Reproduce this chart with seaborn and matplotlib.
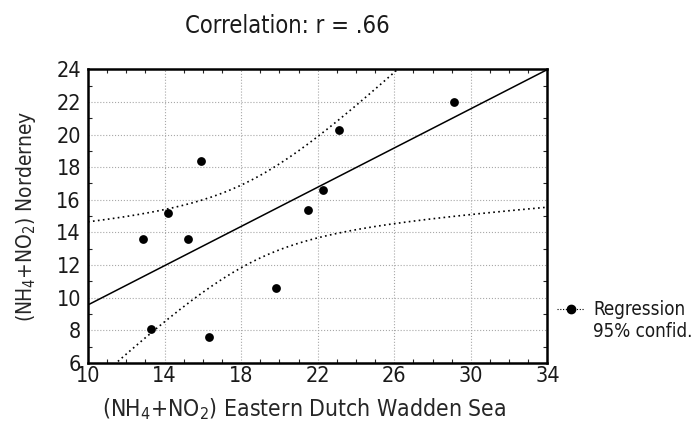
import matplotlib
matplotlib.use('Agg')
import matplotlib.pyplot as plt
from matplotlib.lines import Line2D
from matplotlib.ticker import MultipleLocator
import numpy as np
import pandas as pd
import seaborn as sns

# values
wadden = [12.9, 14.2, 15.2, 15.9, 13.3, 16.3, 19.8, 21.5, 22.3, 23.1, 29.1]
norderney = [13.6, 15.2, 13.6, 18.4, 8.1, 7.6, 10.6, 15.4, 16.6, 20.3, 22.0]
x_ticks = [10, 14, 18, 22, 26, 30, 34]
y_ticks = [6, 8, 10, 12, 14, 16, 18, 20, 22, 24]
title = 'Correlation: r = .66'

sns.set_style('ticks')
plt.rcParams['font.family'] = ['DejaVu Sans']
plt.rcParams['font.stretch'] = 'condensed'
plt.rcParams['mathtext.fontset'] = 'custom'
plt.rcParams['mathtext.rm'] = 'DejaVu Sans:stretch=condensed'
plt.rcParams['mathtext.it'] = 'DejaVu Sans:stretch=condensed'
plt.rcParams['text.color'] = '#1a1a1a'

df = pd.DataFrame({'x': wadden, 'y': norderney})

# least squares fit and 95% confidence band of the mean
n = len(df)
slope, intercept = np.polyfit(df['x'], df['y'], 1)
resid = df['y'] - (intercept + slope * df['x'])
s = np.sqrt((resid ** 2).sum() / (n - 2))
xm = df['x'].mean()
sxx = ((df['x'] - xm) ** 2).sum()
t975 = 2.262
xs = np.linspace(x_ticks[0], x_ticks[-1], 200)
fit = intercept + slope * xs
half = t975 * s * np.sqrt(1.0 / n + (xs - xm) ** 2 / sxx)
band = pd.DataFrame({'x': xs, 'fit': fit, 'lo': fit - half, 'hi': fit + half})

fig = plt.figure(figsize=(6.95, 4.25), dpi=100)
ax = fig.add_axes([0.1266, 0.146, 0.661, 0.691])

ax.grid(True, color='#a8a8a8', linestyle=':', linewidth=0.8)
ax.set_axisbelow(True)

sns.lineplot(data=band, x='x', y='fit', color='black', linewidth=1.1, ax=ax)
sns.lineplot(data=band, x='x', y='lo', color='black', linewidth=1.2,
             linestyle=(0, (1, 2.0)), ax=ax)
sns.lineplot(data=band, x='x', y='hi', color='black', linewidth=1.2,
             linestyle=(0, (1, 2.0)), ax=ax)
sns.scatterplot(data=df, x='x', y='y', color='black', s=40, edgecolor='black',
                linewidth=0, zorder=5, ax=ax)

ax.set_xlim(x_ticks[0], x_ticks[-1])
ax.set_ylim(y_ticks[0], y_ticks[-1])
ax.set_xticks(x_ticks)
ax.set_yticks(y_ticks)
ax.xaxis.set_minor_locator(MultipleLocator(1))
ax.yaxis.set_minor_locator(MultipleLocator(1))
ax.tick_params(which='major', direction='in', length=0, labelsize=15.5,
               labelcolor='#1a1a1a')
ax.tick_params(axis='x', which='major', pad=2.5)
ax.tick_params(axis='y', which='major', pad=5)
ax.tick_params(which='minor', direction='in', length=3, width=0.8,
               top=True, right=True)
for sp in ax.spines.values():
    sp.set_linewidth(1.8)
    sp.set_color('black')

ax.set_xlabel(r'(NH$_4$+NO$_2$) Eastern Dutch Wadden Sea', fontsize=16.5)
ax.set_ylabel(r'(NH$_4$+NO$_2$) Norderney', fontsize=15)
ax.xaxis.set_label_coords(0.47, -0.112)
ax.yaxis.set_label_coords(-0.108, 0.5)

fig.text(0.413, 0.938, title, ha='center', va='center', fontsize=17)

h1 = Line2D([], [], color='black', linestyle=(0, (1, 1.5)), linewidth=0.8,
            marker='o', markersize=6)
h2 = Line2D([], [], color='none')
ax.legend(handles=[h1, h2], labels=['Regression', '95% confid.'],
          loc='upper left', bbox_to_anchor=(1.022, 0.213), frameon=False,
          borderaxespad=0, borderpad=0,
          handlelength=1.4, handletextpad=0.5, labelspacing=0.15,
          fontsize=13.5)

fig.savefig('out.png', dpi=100)
